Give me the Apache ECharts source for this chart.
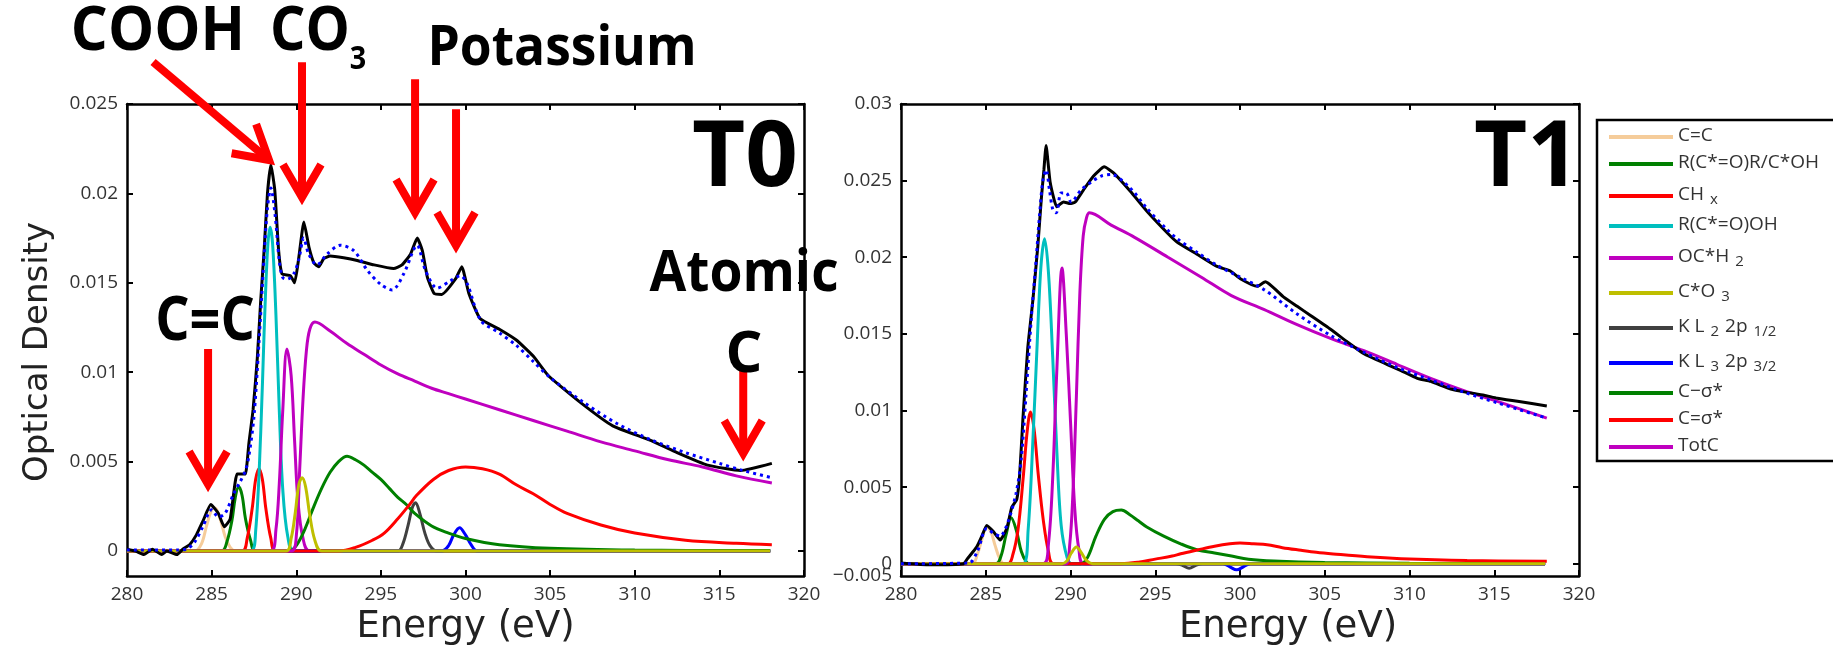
<!DOCTYPE html>
<html>
<head>
<meta charset="utf-8">
<title>C 1s NEXAFS fits, T0 / T1</title>
<script src="https://cdn.jsdelivr.net/npm/echarts@6/dist/echarts.min.js"></script>
<style>
html, body { margin: 0; padding: 0; background: #fff; }
#main { width: 1833px; height: 651px; }
</style>
</head>
<body>
<div id="main"></div>
<script>
// all pairs are [energy (eV), optical density]

// ---- T0 ----
const t0Measured = [[280.0,0.0001],[280.5,0.0],[281.0,-0.0002],[281.5,0.0001],[282.05,-0.0002],[282.35,0.0],[282.95,-0.0002],[283.3,0.0001],[283.7,0.00035],[284.1,0.0009],[284.5,0.0017],[284.95,0.0026],[285.4,0.0021],[285.75,0.00135],[286.1,0.0018],[286.5,0.0043],[286.8,0.0043],[287.0,0.0043],[287.2,0.006],[287.45,0.0079],[287.7,0.0108],[287.9,0.014],[288.1,0.0168],[288.3,0.02],[288.5,0.0216],[288.73,0.0202],[288.96,0.0168],[289.16,0.0155],[289.65,0.0154],[289.9,0.015],[290.15,0.0164],[290.45,0.0184],[290.75,0.017],[291.05,0.0161],[291.33,0.0159],[291.62,0.01635],[292.0,0.0165],[292.8,0.0164],[293.6,0.01625],[294.6,0.016],[295.75,0.0158],[296.25,0.016],[296.75,0.0166],[297.15,0.0175],[297.45,0.0168],[297.75,0.0153],[298.15,0.0144],[298.6,0.01435],[299.4,0.0152],[299.78,0.0159],[300.2,0.0144],[300.86,0.013],[302.0,0.0124],[303.0,0.0118],[304.0,0.0109],[304.9,0.0098],[306.8,0.0083],[308.7,0.007],[310.9,0.0062],[312.5,0.0055],[314.3,0.0048],[316.25,0.0045],[318.1,0.0049]];
const t0Fit = [[280,0.00005],[283.0,0.00005],[283.5,0.0001],[284.0,0.0005],[284.5,0.0014],[285.0,0.0023],[285.4,0.0019],[285.8,0.0021],[286.3,0.0032],[286.7,0.0039],[287.0,0.0045],[287.2,0.0053],[287.5,0.0075],[287.8,0.0117],[288.1,0.0165],[288.3,0.0192],[288.5,0.0203],[288.75,0.0188],[289.0,0.0162],[289.2,0.0153],[289.46,0.0152],[289.85,0.0155],[290.15,0.0163],[290.44,0.0175],[290.74,0.0166],[291.23,0.016],[291.82,0.0166],[292.6,0.0171],[293.4,0.0168],[294.2,0.0157],[295.0,0.0149],[295.67,0.0146],[296.35,0.0155],[297.14,0.0171],[297.63,0.0157],[298.32,0.0147],[299.1,0.0151],[299.7,0.0154],[300.1,0.01495],[300.9,0.0129],[302.0,0.0122],[303.0,0.0115],[304.0,0.0106],[305.0,0.0097],[307.0,0.0083],[309.0,0.0071],[311.0,0.0062],[313.0,0.0055],[315.0,0.0049],[316.4,0.0045],[318.1,0.0041]];
const t0CC = [[280,0],[284.0,0],[284.4,0.0004],[284.7,0.0014],[285.0,0.0023],[285.2,0.0024],[285.5,0.0018],[285.8,0.0008],[286.1,0.0002],[286.4,0],[318,0]];
const t0RCOR = [[280,0],[285.6,0],[285.9,0.0005],[286.2,0.0017],[286.4,0.003],[286.6,0.0036],[286.8,0.0031],[287.0,0.0018],[287.3,0.0006],[287.6,0],[318,0]];
const t0CHx = [[280,0],[286.8,0],[287.1,0.0007],[287.4,0.0024],[287.6,0.004],[287.8,0.0046],[288.0,0.004],[288.2,0.0024],[288.5,0.0007],[288.8,0],[318,0]];
const t0COOH = [[280,0],[287.3,0],[287.6,0.0011],[287.9,0.0066],[288.1,0.0122],[288.3,0.0168],[288.45,0.0181],[288.6,0.0172],[288.8,0.0132],[289.0,0.0078],[289.2,0.0035],[289.5,0.0008],[289.9,0],[318,0]];
const t0OCH2 = [[280,0],[288.5,0],[288.8,0.0012],[289.0,0.0038],[289.2,0.0078],[289.45,0.0113],[289.7,0.0098],[289.9,0.0062],[290.1,0.0028],[290.4,0.0007],[290.8,0],[318,0]];
const t0CO3 = [[280,0],[289.4,0],[289.7,0.0007],[289.95,0.0022],[290.15,0.0037],[290.35,0.0041],[290.55,0.0036],[290.8,0.002],[291.1,0.0006],[291.5,0],[318,0]];
const t0KL2 = [[280,0],[296.0,0],[296.3,0.0004],[296.6,0.0014],[296.85,0.0024],[297.05,0.0027],[297.3,0.0021],[297.6,0.001],[297.9,0.0003],[298.3,0],[318,0]];
const t0KL3 = [[280,0],[298.6,0],[299.0,0.0003],[299.3,0.0009],[299.65,0.0013],[300.0,0.0009],[300.3,0.0004],[300.7,0],[318,0]];
const t0CSig = [[280,0],[289.6,0],[290.0,0.0003],[290.5,0.0012],[291.0,0.0024],[291.5,0.0035],[292.0,0.0044],[292.5,0.005],[293.0,0.0053],[293.5,0.0051],[294.0,0.0048],[294.5,0.0044],[295.0,0.004],[295.5,0.0035],[296.0,0.003],[296.5,0.0026],[297.0,0.0021],[298.0,0.0014],[299.0,0.001],[300.0,0.0007],[302,0.00035],[305,0.00015],[310,0.00005],[318,0.00002]];
const t0CdSig = [[280,0],[292.5,0],[293.5,0.0002],[294.5,0.0006],[295.2,0.001],[296.0,0.0018],[296.7,0.0026],[297.1,0.0031],[298.1,0.004],[299.0,0.0045],[300,0.0047],[301,0.0046],[302,0.0043],[303,0.0037],[304,0.0032],[305,0.0026],[306,0.0021],[308,0.00145],[310,0.001],[313,0.0006],[316,0.00043],[318.1,0.00035]];
const t0TotC = [[280,0],[289.7,0],[290.0,0.0008],[290.2,0.0045],[290.4,0.0085],[290.6,0.0112],[290.8,0.0124],[291.1,0.0128],[292,0.0123],[293,0.0116],[294,0.011],[295,0.0104],[296,0.0099],[297,0.0095],[298,0.0091],[299,0.0088],[300,0.0085],[302,0.0079],[304,0.0073],[306,0.0067],[308,0.0061],[310,0.0056],[312,0.0051],[314,0.0047],[316,0.0042],[318.1,0.0038]];

// ---- T1 ----
const t1Measured = [[280,0.00005],[281.7,-0.00007],[283.7,0.0],[283.9,0.0003],[284.47,0.0011],[284.77,0.0018],[285.06,0.0025],[285.45,0.0021],[285.85,0.00155],[286.24,0.0023],[286.54,0.0037],[286.83,0.0042],[287.0,0.0058],[287.19,0.0094],[287.48,0.0141],[287.78,0.0172],[288.07,0.0207],[288.27,0.0237],[288.43,0.0257],[288.56,0.0273],[288.8,0.0249],[289.19,0.0233],[289.59,0.0236],[289.98,0.0235],[290.28,0.0236],[290.77,0.0244],[291.36,0.0253],[291.99,0.0259],[292.54,0.0255],[293.53,0.0243],[294.51,0.023],[295.7,0.0216],[296.28,0.021],[297.46,0.0202],[298.64,0.0194],[299.43,0.0191],[300.02,0.0186],[301.01,0.0181],[301.5,0.0184],[302.58,0.0174],[303.37,0.0168],[304.16,0.0162],[305.34,0.0153],[306.3,0.0145],[307.31,0.0137],[308.69,0.013],[309.5,0.0126],[310.46,0.0121],[311.25,0.0119],[312.43,0.0114],[313.3,0.0112],[314.4,0.011],[315.18,0.0108],[316.37,0.0106],[318.1,0.0103]];
const t1Fit = [[280,0],[284.0,0.00005],[284.5,0.0008],[285.06,0.0023],[285.45,0.002],[285.85,0.0018],[286.3,0.0027],[286.79,0.0046],[287.09,0.0068],[287.38,0.0111],[287.68,0.0159],[287.97,0.0198],[288.17,0.0227],[288.37,0.025],[288.56,0.0257],[288.76,0.0244],[288.96,0.0231],[289.16,0.0229],[289.45,0.0242],[289.75,0.0242],[290.04,0.0236],[290.63,0.0244],[291.22,0.0249],[291.81,0.0253],[292.4,0.0254],[293.53,0.0245],[294.5,0.0232],[295.7,0.0218],[296.3,0.0212],[297.5,0.0203],[298.6,0.0195],[300.0,0.0187],[301.4,0.0179],[303.37,0.0163],[305.34,0.0149],[307.31,0.0138],[309.28,0.0128],[311.25,0.012],[313.21,0.0112],[315.18,0.0105],[318.1,0.0095]];
const t1CC = [[280,0],[284.2,0],[284.5,0.0006],[284.8,0.0017],[285.05,0.0024],[285.3,0.0021],[285.55,0.0012],[285.8,0.0004],[286.1,0],[318,0]];
const t1RCOR = [[280,0],[285.6,0],[285.9,0.0005],[286.2,0.0019],[286.5,0.003],[286.8,0.0022],[287.1,0.0008],[287.4,0.0001],[287.6,0],[318,0]];
const t1CHx = [[280,0],[286.3,0],[286.6,0.0006],[286.9,0.0022],[287.2,0.0055],[287.45,0.0087],[287.64,0.0099],[287.85,0.0088],[288.1,0.0058],[288.4,0.0028],[288.7,0.0008],[289.0,0],[318,0]];
const t1COOH = [[280,0],[287.2,0],[287.5,0.0022],[287.8,0.0085],[288.0,0.0135],[288.25,0.0193],[288.47,0.0212],[288.7,0.019],[288.95,0.0135],[289.2,0.0072],[289.45,0.0025],[289.8,0.0004],[290.1,0],[318,0]];
const t1OCH2 = [[280,0],[288.4,0],[288.7,0.0013],[288.95,0.0056],[289.2,0.0128],[289.5,0.0193],[289.75,0.015],[290.0,0.0093],[290.25,0.0036],[290.5,0.0009],[290.8,0],[318,0]];
const t1CO3 = [[280,0],[289.5,0],[289.8,0.0002],[290.05,0.0007],[290.35,0.0011],[290.65,0.0007],[290.95,0.0002],[291.3,0],[318,0]];
const t1KL2 = [[280,0],[296.2,0],[296.6,-0.0001],[297.0,-0.0003],[297.4,-0.0001],[297.8,0],[318,0]];
const t1KL3 = [[280,0],[299.0,0],[299.4,-0.0002],[299.8,-0.0004],[300.2,-0.0002],[300.6,0],[318,0]];
const t1CSig = [[280,0],[290.6,0],[291.0,0.0004],[291.5,0.0018],[292.0,0.0029],[292.5,0.0034],[293.0,0.0035],[293.5,0.0032],[294.0,0.0028],[294.5,0.0024],[295.5,0.0018],[296.5,0.0013],[297.5,0.0009],[298.5,0.0007],[299.5,0.0005],[300.5,0.0003],[302,0.00018],[305,0.00008],[310,0.00003],[318,0.00001]];
const t1CdSig = [[280,0],[293.0,0],[294.0,0.0001],[295.0,0.0003],[296.0,0.0005],[296.5,0.00065],[297.5,0.0009],[298.5,0.00114],[299.4,0.0013],[300.0,0.00135],[300.8,0.0013],[301.6,0.00124],[302.5,0.00105],[303.6,0.00088],[304.5,0.00075],[305.5,0.00064],[307.5,0.00045],[309.5,0.00033],[313.4,0.00021],[318.1,0.00016]];
const t1TotC = [[280,0],[289.7,0],[289.95,0.0012],[290.15,0.0048],[290.35,0.011],[290.55,0.0176],[290.75,0.0214],[290.95,0.0226],[291.12,0.0229],[292.4,0.0221],[293.78,0.0213],[295.75,0.02],[297.72,0.0187],[299.49,0.0175],[301.4,0.0166],[303.37,0.0156],[305.34,0.0147],[307.31,0.0139],[309.28,0.013],[311.25,0.0121],[313.21,0.0113],[315.18,0.0106],[318.1,0.0095]];

const compNames = ['C=C', 'R(C*=O)R/C*OH', 'CHx', 'R(C*=O)OH', 'OC*H2', 'C*O3', 'K L2 2p1/2', 'K L3 2p3/2', 'C\u2212\u03c3*', 'C=\u03c3*', 'TotC'];
const compColors = ['#f5cc9a', '#008000', '#ff0000', '#00bfbf', '#bf00bf', '#bfbf00', '#404040', '#0000ff', '#008000', '#ff0000', '#bf00bf'];
const t0Comps = [t0CC, t0RCOR, t0CHx, t0COOH, t0OCH2, t0CO3, t0KL2, t0KL3, t0CSig, t0CdSig, t0TotC];
const t1Comps = [t1CC, t1RCOR, t1CHx, t1COOH, t1OCH2, t1CO3, t1KL2, t1KL3, t1CSig, t1CdSig, t1TotC];
const t0YTicks = [0, 0.005, 0.01, 0.015, 0.02, 0.025];
const t1YTicks = [0, 0.005, 0.01, 0.015, 0.02, 0.025, 0.03];
const t1YMin = -0.0008;

// C*O3 drawn last so its yellow zero line lies on top, as in the figure
const drawOrder = [0, 1, 2, 3, 4, 6, 7, 8, 9, 10, 5];

// red annotation arrows on T0, [tailE, tailOD, tipE, tipOD]
const t0Arrows = [
    [281.54, 0.02735, 288.75, 0.02158],
    [290.34, 0.02733, 290.34, 0.01933],
    [297.02, 0.02639, 297.02, 0.01849],
    [299.44, 0.0247, 299.44, 0.01664],
    [284.79, 0.0113, 284.79, 0.00328],
    [316.41, 0.01023, 316.41, 0.00501]
];

const legendRich = {
    'CHx': '{n|CH}{s|x}',
    'OC*H2': '{n|OC*H}{s|2}',
    'C*O3': '{n|C*O}{s|3}',
    'K L2 2p1/2': '{n|K L}{s|2}{n|2p}{s|1/2}',
    'K L3 2p3/2': '{n|K L}{s|3}{n|2p}{s|3/2}'
};

const chart = echarts.init(document.getElementById('main'));

const axisLine = {show: true, onZero: false, lineStyle: {color: '#000', width: 2.5}};
const axisTick = {show: true, inside: true, length: 6, lineStyle: {color: '#000', width: 2}};
const labelFont = {fontFamily: 'Open Sans', fontSize: 19, color: '#333'};
const nameFont = {fontFamily: 'DejaVu Sans', fontSize: 37, color: '#222'};

function xAxes(g, namePad) {
    return [
        {
            type: 'value', gridIndex: g, position: 'bottom', min: 280, max: 320, interval: 5,
            axisLine: axisLine, axisTick: axisTick, splitLine: {show: false},
            axisLabel: Object.assign({margin: 9}, labelFont),
            name: 'Energy (eV)', nameLocation: 'middle', nameGap: 31,
            nameTextStyle: Object.assign({padding: namePad}, nameFont)
        },
        {
            type: 'value', gridIndex: g, position: 'top', min: 280, max: 320, interval: 5,
            axisLine: axisLine, axisTick: axisTick, splitLine: {show: false}, axisLabel: {show: false}
        }
    ];
}

function yAxes(g, min, max, ticks, fmt, name) {
    return [
        {
            type: 'value', gridIndex: g, position: 'left', min: min, max: max,
            axisLine: axisLine, splitLine: {show: false},
            axisTick: Object.assign({customValues: ticks}, axisTick),
            axisLabel: Object.assign({margin: 9, customValues: ticks, formatter: fmt,
                showMinLabel: true, showMaxLabel: true}, labelFont),
            name: name, nameLocation: 'middle', nameGap: 72,
            nameTextStyle: Object.assign({}, nameFont, {fontSize: 34, padding: [0, 24, 0, 0]})
        },
        {
            type: 'value', gridIndex: g, position: 'right', min: min, max: max,
            axisLine: axisLine, splitLine: {show: false},
            axisTick: Object.assign({customValues: ticks}, axisTick),
            axisLabel: {show: false}
        }
    ];
}

function panelSeries(comps, measured, fit, axisIdx) {
    const out = [];
    drawOrder.forEach(function (i) {
        out.push({
            name: compNames[i], type: 'line', xAxisIndex: axisIdx, yAxisIndex: axisIdx,
            data: comps[i], symbol: 'none', smooth: 0.35,
            lineStyle: {color: compColors[i], width: 3}, itemStyle: {color: compColors[i]},
            emphasis: {disabled: true}
        });
    });
    out.push({
        name: 'Measured', type: 'line', xAxisIndex: axisIdx, yAxisIndex: axisIdx,
        data: measured, symbol: 'none', smooth: 0.15,
        lineStyle: {color: '#000', width: 3}, itemStyle: {color: '#000'}, emphasis: {disabled: true}
    });
    out.push({
        name: 'Fit', type: 'line', xAxisIndex: axisIdx, yAxisIndex: axisIdx,
        data: fit, symbol: 'none', smooth: 0.3,
        lineStyle: {color: '#0000ff', width: 3, type: [3, 4]}, itemStyle: {color: '#0000ff'},
        emphasis: {disabled: true}
    });
    return out;
}

const fmtNum = v => String(+v.toFixed(3));

// the T1 panel prints a stray "-0.005" on its bottom edge, right under the "0";
// it sits on its own label-only axis so the overlap check does not drop the "0"
const t1BottomLabelAxis = {
    type: 'value', gridIndex: 1, position: 'left', min: t1YMin, max: 0.03,
    axisLine: {show: false}, axisTick: {show: false}, splitLine: {show: false},
    axisLabel: Object.assign({margin: 9, customValues: [t1YMin], formatter: () => '\u22120.005',
        showMinLabel: true}, labelFont)
};

const option = {
    animation: false,
    backgroundColor: '#fff',
    grid: [
        {left: 127, top: 104, width: 677, height: 472},
        {left: 901, top: 104, width: 678, height: 472}
    ],
    xAxis: xAxes(0, [0, 0, 0, 0]).concat(xAxes(1, [0, 0, 0, 96])),
    yAxis: yAxes(0, -0.0014, 0.025, t0YTicks, fmtNum, 'Optical Density')
        .concat(yAxes(1, t1YMin, 0.03, t1YTicks, fmtNum, ''))
        .concat([t1BottomLabelAxis]),
    legend: {
        data: compNames,
        orient: 'vertical',
        left: 1597, top: 120,
        icon: 'rect',
        itemWidth: 64, itemHeight: 4, itemGap: 8,
        padding: [6, 30, 6, 12],
        backgroundColor: '#fff', borderColor: '#000', borderWidth: 2.5,
        formatter: name => legendRich[name] || '{n|' + name + '}',
        textStyle: {
            rich: {
                n: {fontFamily: 'Open Sans', fontSize: 19, color: '#333', lineHeight: 22, verticalAlign: 'top'},
                s: {fontFamily: 'Open Sans', fontSize: 15, color: '#333', lineHeight: 14, padding: [12, 6, 0, 6], verticalAlign: 'bottom'}
            }
        }
    },
    series: panelSeries(t0Comps, t0Measured, t0Fit, 0).concat(panelSeries(t1Comps, t1Measured, t1Fit, 2))
};

chart.setOption(option);

// annotations
function arrowShapes(tail, tip) {
    const dx = tail[0] - tip[0], dy = tail[1] - tip[1];
    const len = Math.hypot(dx, dy);
    const ux = dx / len, uy = dy / len;
    // pull the chevron back so its outer point lands on the tip
    const v = [tip[0] + ux * 8, tip[1] + uy * 8];
    const a = 30 * Math.PI / 180, h = 38;
    const w1 = [v[0] + h * (ux * Math.cos(a) - uy * Math.sin(a)), v[1] + h * (ux * Math.sin(a) + uy * Math.cos(a))];
    const w2 = [v[0] + h * (ux * Math.cos(-a) - uy * Math.sin(-a)), v[1] + h * (ux * Math.sin(-a) + uy * Math.cos(-a))];
    const st = {stroke: '#ff0000', lineWidth: 8, fill: null, lineJoin: 'miter', lineCap: 'butt'};
    return [
        {type: 'polyline', shape: {points: [tail, v]}, style: st, z: 100},
        {type: 'polyline', shape: {points: [w1, v, w2]}, style: st, z: 100}
    ];
}

function label(text, x, y, size, sx) {
    return {
        type: 'text', x: x, y: y, scaleX: sx || 1, z: 101,
        style: {
            text: text, fill: '#000', font: 'bold ' + size + 'px "Open Sans"',
            align: 'center', verticalAlign: 'middle'
        }
    };
}

const toPx = p => chart.convertToPixel({gridIndex: 0}, p);
let graphics = [
    label('COOH', 158, 33, 60, 0.97),
    label('CO', 310, 33, 60, 0.93),
    label('3', 358, 60, 32, 0.9),
    label('Potassium', 562, 49, 56, 0.92),
    label('T0', 745, 160, 92),
    label('T1', 1527, 160, 92),
    label('C=C', 205, 323, 60, 0.9),
    label('Atomic', 744, 274, 58, 0.92),
    label('C', 744, 355, 58)
];
t0Arrows.forEach(function (a) {
    graphics = graphics.concat(arrowShapes(toPx([a[0], a[1]]), toPx([a[2], a[3]])));
});
chart.setOption({graphic: graphics});
</script>
</body>
</html>
